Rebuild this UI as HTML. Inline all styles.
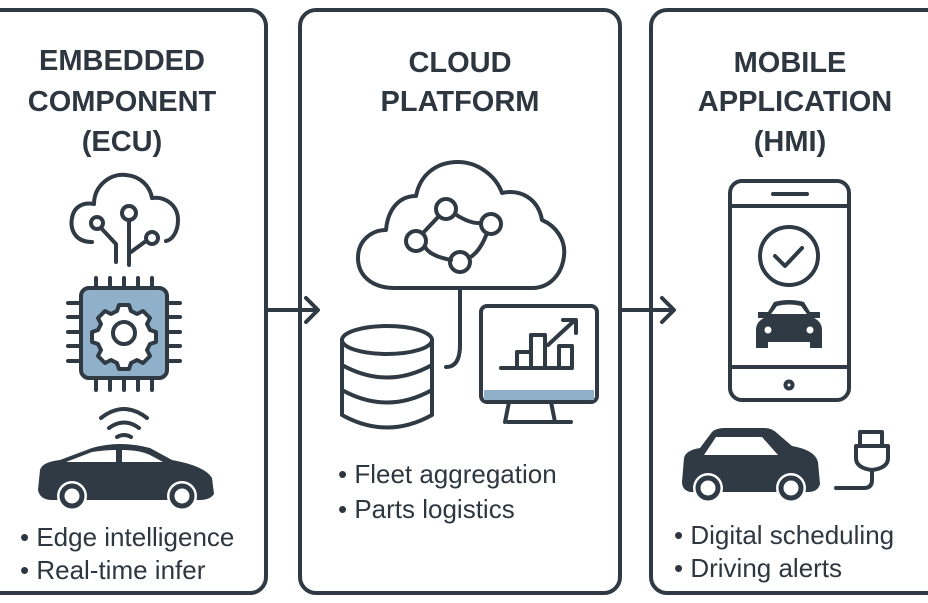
<!DOCTYPE html>
<html><head><meta charset="utf-8"><style>
html,body{margin:0;padding:0;background:#fff;width:928px;height:603px;overflow:hidden}
svg{display:block}
.t{font-family:"Liberation Sans",sans-serif;font-weight:bold;font-size:29px;fill:#2e3740;text-anchor:middle}
.b{font-family:"Liberation Sans",sans-serif;font-size:26px;fill:#2e3740}
</style></head><body>
<svg width="928" height="603" viewBox="0 0 928 603" xmlns="http://www.w3.org/2000/svg">
<g fill="none" stroke="#2f3a44" stroke-width="4" stroke-linecap="round" stroke-linejoin="round">
<rect x="-20" y="10" width="286" height="583" rx="16"/>
<rect x="300" y="10" width="320" height="583" rx="16"/>
<rect x="651" y="10" width="300" height="583" rx="16"/>
<path d="M268 310H316M306 298L318 310L306 322"/>
<path d="M620 310H672M662 298L674 310L662 322"/>
<path d="M92 242C74 242 70 228 72 218C74 206 84 202 94 204C94 186 110 173 126 175C140 176 150 186 152 198C166 196 178 206 178 220C178 232 172 240 166 241"/>
<circle cx="97" cy="223" r="6"/><circle cx="129" cy="213" r="7"/><circle cx="152" cy="238" r="6"/>
<path d="M101 228L116 244V262M129 220V265M146 241L131 252"/>
<rect x="81" y="288" width="86" height="90" rx="8" fill="#8fb0c8"/>
<path d="M96 278V288M110 278V288M124 278V288M138 278V288M152 278V288M96 378V390M110 378V390M124 378V390M138 378V390M152 378V390M68 303H81M68 317H81M68 332H81M68 346H81M68 361H81M167 303H180M167 317H180M167 332H180M167 346H180M167 361H180"/>
<path d="M119 305h10l2 6l6 3l6-3l7 7l-3 6l3 6l6 2v10l-6 2l-3 6l3 6l-7 7l-6-3l-6 3l-2 6h-10l-2-6l-6-3l-6 3l-7-7l3-6l-3-6l-6-2v-10l6-2l3-6l-3-6l7-7l6 3l6-3z" fill="#fff"/>
<circle cx="124" cy="333" r="11" fill="#fff"/>
<path d="M101 418Q124 400 147 418M109 428Q124 417 139 428M117 437Q124 433 131 437"/>
</g>
<path d="M40 470Q42 462 60 460L92 448Q120 440 150 448L172 460Q205 466 212 478L214 494Q210 500 200 500H52Q40 500 38 490Z" fill="#2f3a44"/>
<path d="M66 462L92 452Q105 450 116 450V462ZM122 450Q140 450 150 455L163 462H122Z" fill="#fff"/>
<circle cx="72" cy="496" r="15" fill="#fff"/><circle cx="72" cy="496" r="10" fill="none" stroke="#2f3a44" stroke-width="5"/>
<circle cx="182" cy="496" r="15" fill="#fff"/><circle cx="182" cy="496" r="10" fill="none" stroke="#2f3a44" stroke-width="5"/>
<g fill="none" stroke="#2f3a44" stroke-width="4" stroke-linecap="round" stroke-linejoin="round">
<path d="M395 288C370 288 358 274 358 258C358 240 372 230 386 230C388 208 400 196 416 196C420 175 436 162 458 162C478 162 496 176 502 193C520 189 538 198 542 220C556 226 566 240 564 256C562 274 550 288 532 288Z"/>
<circle cx="446" cy="209" r="10"/><circle cx="416" cy="241" r="10"/><circle cx="491" cy="224" r="10"/><circle cx="460" cy="262" r="10"/>
<path d="M439 216L423 233M455 214Q470 224 481 223M487 233Q480 252 469 258M451 260Q430 256 425 247"/>
<path d="M460 290V345Q460 367 446 367"/>
<ellipse cx="387" cy="340" rx="45" ry="14"/>
<path d="M342 340V415Q387 440 432 415V340M342 365Q387 390 432 365M342 390Q387 415 432 390"/>
<rect x="481" y="306" width="116" height="96" rx="6"/>
<rect x="484" y="390" width="110" height="10" fill="#8fb0c8" stroke="none"/>
<path d="M509 402L505 422M551 402L555 422M508 422H571"/>
<path d="M501 368H517V352H531V368M531 368V335H545V368M545 368H559V346H572V368M501 368H572"/>
<path d="M548 345L575 320M563 320H576V333"/>
<rect x="730" y="181" width="119" height="219" rx="12"/>
<path d="M731 206H848M731 367H848M773 194H807"/>
<circle cx="789" cy="256" r="29"/>
<path d="M775 256L785 266L802 248"/>
<circle cx="789" cy="385" r="3.5"/>
<rect x="860" y="432" width="22" height="14"/>
<path d="M856 446H888V458Q888 468 872 470Q856 468 856 458Z"/>
<path d="M872 470V480Q872 488 864 488H836"/>
</g>
<path d="M768 312L774 302Q789 298 804 302L810 312H820V318H814Q822 322 822 330V348H810V342H768V348H756V330Q756 322 764 318H758V312Z" fill="#2f3a44"/>
<path d="M771 314L777 306Q789 303 801 306L807 314Z" fill="#fff"/>
<circle cx="768" cy="330" r="3.5" fill="#fff"/><circle cx="810" cy="330" r="3.5" fill="#fff"/>
<path d="M684 458Q686 450 700 448L712 432Q716 428 725 428H765Q772 428 778 434L792 446Q815 450 818 462L820 484Q818 492 808 492H690Q682 490 682 482Z" fill="#2f3a44"/>
<path d="M704 455L716 437H762L778 455Z" fill="#fff"/>
<circle cx="708" cy="488" r="15" fill="#fff"/><circle cx="708" cy="488" r="10" fill="none" stroke="#2f3a44" stroke-width="5"/>
<circle cx="791" cy="488" r="15" fill="#fff"/><circle cx="791" cy="488" r="10" fill="none" stroke="#2f3a44" stroke-width="5"/>
<text class="t" x="122" y="70">EMBEDDED</text>
<text class="t" x="122" y="111">COMPONENT</text>
<text class="t" x="122" y="151">(ECU)</text>
<text class="t" x="460" y="72">CLOUD</text>
<text class="t" x="460" y="111">PLATFORM</text>
<text class="t" x="790" y="72">MOBILE</text>
<text class="t" x="795" y="111">APPLICATION</text>
<text class="t" x="790" y="151">(HMI)</text>
<text class="b" x="20" y="546">• Edge intelligence</text>
<text class="b" x="20" y="579">• Real-time infer</text>
<text class="b" x="338" y="483">• Fleet aggregation</text>
<text class="b" x="338" y="518">• Parts logistics</text>
<text class="b" x="674" y="544">• Digital scheduling</text>
<text class="b" x="674" y="577">• Driving alerts</text>
</svg>
</body></html>
